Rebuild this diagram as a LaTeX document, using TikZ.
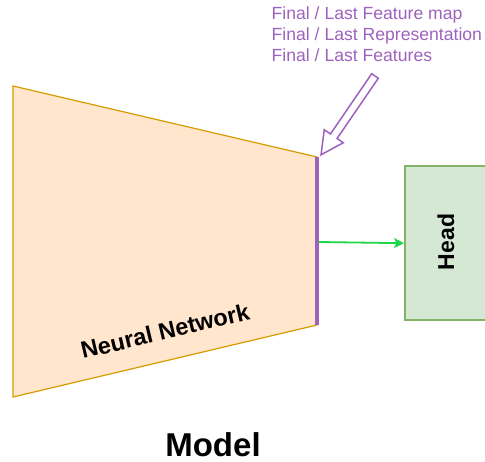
\documentclass[tikz,border=0pt]{standalone}
\usepackage{fontspec}
\setmainfont{Liberation Sans}
\usetikzlibrary{arrows.meta}
\definecolor{nnfill}{HTML}{FFE6CC}
\definecolor{nnline}{HTML}{D79B00}
\definecolor{purp}{HTML}{9D62BD}
\definecolor{headfill}{HTML}{D5E8D4}
\definecolor{headline}{HTML}{82B366}
\definecolor{flow}{RGB}{30,215,70}
\begin{document}
\begin{tikzpicture}[x=1pt,y=1pt,
  nnshape/.style={fill=nnfill,draw=nnline,line width=1.2pt,line join=miter},
  featline/.style={draw=purp,line width=3.2pt},
  headbox/.style={fill=headfill,draw=headline,line width=2.4pt},
  flowarrow/.style={draw=flow,line width=1.8pt,-{Stealth[length=10pt,width=10pt,inset=2.5pt]}},
  hollowarrow/.style={draw=purp,fill=white,line width=1.5pt,line join=miter},
  purptext/.style={text=purp,font=\fontsize{17.6}{20.7}\selectfont,align=left,inner sep=0pt},
  boldlabel/.style={font=\bfseries,inner sep=0pt}]
\useasboundingbox (0,0) rectangle (485,461);
% neural network trapezoid
\coordinate (tl) at (13,375);
\coordinate (bl) at (13,64);
\coordinate (tr) at (317,304);
\coordinate (br) at (317,136);
\draw[nnshape] (tl) -- (tr) -- (br) -- (bl) -- cycle;
\draw[featline] (tr) -- (br);
\coordinate (out) at (318.5,219);
% head box
\node[headbox,minimum width=90pt,minimum height=154pt,anchor=north west,inner sep=0pt] (head) at (404,296) {};
\node[boldlabel,rotate=90,font=\fontsize{23}{27}\bfseries\selectfont] (headtxt) at (446,219) {Head};
\draw[flowarrow] (out) -- (head.west);
% labels
\node[boldlabel,rotate=13.3,font=\fontsize{23.5}{27}\bfseries\selectfont] (nn) at (165,130) {Neural Network};
\node[boldlabel,anchor=base,font=\fontsize{33}{38}\bfseries\selectfont] (model) at (213,4.5) {Model};
\node[purptext,anchor=north west] (feat) at (271.5,454) {Final / Last Feature map\\Final / Last Representation\\Final / Last Features};
% hollow block arrow pointing to the top of the feature line
\coordinate (arrstart) at (375,385);
\begin{scope}[shift={(arrstart)},rotate=235.6]
\draw[hollowarrow] (0,-4) -- (73,-4) -- (73,-11.5) -- (95.5,0) -- (73,11.5) -- (73,4) -- (0,4) -- cycle;
\end{scope}
\end{tikzpicture}
\end{document}
